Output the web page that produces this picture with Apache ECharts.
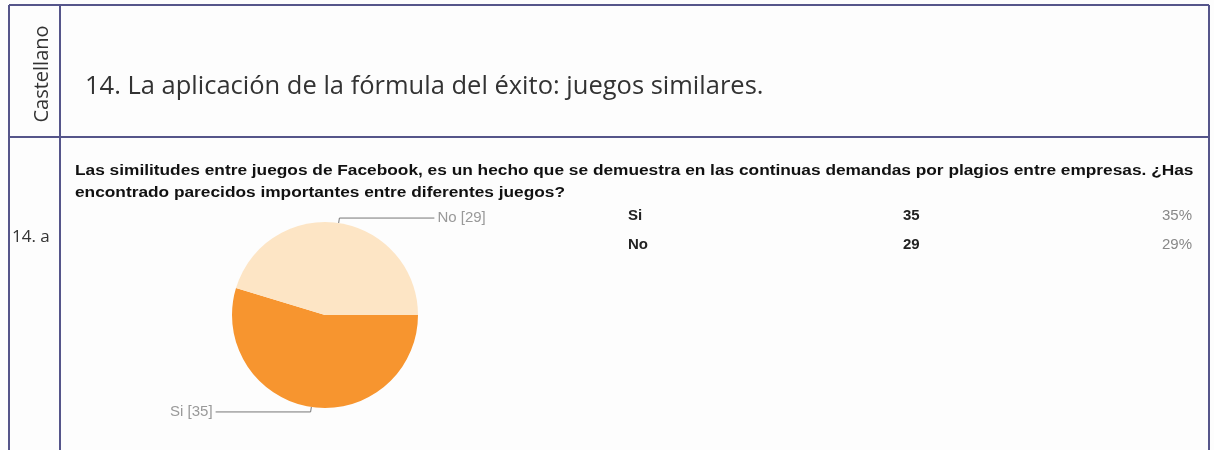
<!DOCTYPE html>
<html>
<head>
<meta charset="utf-8">
<script src="https://cdn.jsdelivr.net/npm/echarts@6/dist/echarts.min.js"></script>
<style>
html,body{margin:0;padding:0;background:#fdfdfd;}
#chart{width:1214px;height:450px;}
</style>
</head>
<body>
<div id="chart"></div>
<script>
// ---- data ----
var sideLabel = "Castellano";
var sectionTitle = "14. La aplicación de la fórmula del éxito: juegos similares.";
var itemLabel = "14. a";
var questionLines = [
  "Las similitudes entre juegos de Facebook, es un hecho que se demuestra en las continuas demandas por plagios entre empresas. ¿Has",
  "encontrado parecidos importantes entre diferentes juegos?"
];
var categories = ["Si", "No"];
var counts = [35, 29];
var percents = ["35%", "29%"];
var sliceColors = ["#F7952F", "#FDE5C5"];

var chart = echarts.init(document.getElementById('chart'), null, {renderer: 'canvas'});

var borderColor = '#55558a';
var graphics = [
  {type:'line', shape:{x1:9,y1:5,x2:1209,y2:5}, style:{stroke:borderColor,lineWidth:2}},
  {type:'line', shape:{x1:9,y1:5,x2:9,y2:450}, style:{stroke:borderColor,lineWidth:2}},
  {type:'line', shape:{x1:60,y1:5,x2:60,y2:450}, style:{stroke:borderColor,lineWidth:2}},
  {type:'line', shape:{x1:1209,y1:5,x2:1209,y2:450}, style:{stroke:borderColor,lineWidth:2}},
  {type:'line', shape:{x1:9,y1:137,x2:1209,y2:137}, style:{stroke:borderColor,lineWidth:2}},
  {type:'text', x:42, y:74, rotation:Math.PI/2, style:{text:sideLabel, font:'20px "Open Sans"', fill:'#333', align:'center', verticalAlign:'middle'}},
  {type:'text', x:85, y:87, style:{text:sectionTitle, font:'25.5px "Open Sans"', fill:'#333', verticalAlign:'middle'}},
  {type:'text', x:12, y:237, style:{text:itemLabel, font:'17px "Open Sans"', fill:'#333', verticalAlign:'middle'}}
];
questionLines.forEach(function(t, i){
  graphics.push({type:'text', x:75, y:171 + i*22, scaleX:1.235, style:{text:t, font:'bold 14px "Liberation Sans"', fill:'#111', verticalAlign:'middle'}});
});
categories.forEach(function(c, i){
  var y = 216 + i*29;
  graphics.push({type:'text', x:628, y:y, style:{text:c, font:'bold 15px "Liberation Sans"', fill:'#222', verticalAlign:'middle'}});
  graphics.push({type:'text', x:903, y:y, style:{text:String(counts[i]), font:'bold 15px "Liberation Sans"', fill:'#222', verticalAlign:'middle'}});
  graphics.push({type:'text', x:1192, y:y, style:{text:percents[i], font:'15px "Liberation Sans"', fill:'#888', align:'right', verticalAlign:'middle'}});
});

chart.setOption({
  backgroundColor: '#fdfdfd',
  animation: false,
  graphic: graphics,
  series: [{
    type: 'pie',
    center: [325, 315],
    radius: 93,
    startAngle: 0,
    clockwise: true,
    silent: true,
    avoidLabelOverlap: false,
    data: categories.map(function(c, i){
      return {name: c, value: counts[i], itemStyle: {color: sliceColors[i]}};
    }),
    label: {
      show: true,
      position: 'outside',
      formatter: '{b} [{c}]',
      color: '#999',
      fontSize: 15,
      fontFamily: 'Liberation Sans',
      distanceToLabelLine: 3
    },
    labelLine: {
      show: true,
      length: 5,
      length2: 95,
      smooth: false,
      lineStyle: {color: '#777', width: 1}
    },
    emphasis: {disabled: true}
  }]
});
</script>
</body>
</html>
